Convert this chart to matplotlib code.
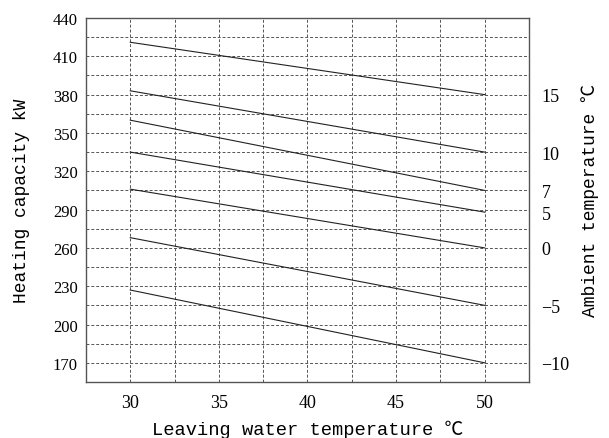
import matplotlib
matplotlib.use("Agg")
import matplotlib.pyplot as plt
from matplotlib.ticker import MultipleLocator, FixedLocator

# leaving water temperature (deg C) at the two ends of each curve
water_temp = [30, 50]

# ambient temperature for each curve and heating capacity (kW) at 30 / 50 deg C
ambient = [15, 10, 7, 5, 0, -5, -10]
capacity = [
  [421, 380],
  [383, 335],
  [360, 305],
  [335, 288],
  [306, 260],
  [268, 215],
  [227, 170],
]

y_ticks = list(range(170, 441, 30))
y_minor = list(range(185, 441, 30))
x_ticks = [30, 35, 40, 45, 50]

LABEL_FONT = ["Liberation Mono", "Noto Sans CJK SC", "DejaVu Sans"]
TICK_FONT = ["Liberation Serif", "DejaVu Serif"]
plt.rcParams["font.family"] = LABEL_FONT


def style_ticks(labels, size):
  for t in labels:
    t.set_family(TICK_FONT)
    t.set_fontsize(size)


def main() -> None:
  fig = plt.figure(figsize=(6.09, 4.39), dpi=100)
  ax = fig.add_axes([0.1412, 0.1276, 0.7274, 0.8291])

  for vals in capacity:
    ax.plot(water_temp, vals, color="#222222", lw=0.8)

  ax.set_xlim(27.5, 52.5)
  ax.set_ylim(155, 440)
  ax.set_xticks(x_ticks)
  ax.set_yticks(y_ticks)
  ax.xaxis.set_minor_locator(MultipleLocator(2.5))
  ax.yaxis.set_minor_locator(FixedLocator(y_minor))
  ax.grid(which="both", ls=(0, (3, 2)), lw=0.7, color="#555555")
  ax.tick_params(which="both", length=0)
  ax.tick_params(axis="x", pad=9)
  ax.tick_params(axis="y", pad=6)
  style_ticks(ax.get_xticklabels(), 13)
  style_ticks(ax.get_yticklabels(), 12)
  for s in ax.spines.values():
    s.set_color("#555555")
    s.set_linewidth(1.0)

  ax.set_xlabel("Leaving water temperature ℃", fontsize=13.5, labelpad=6)
  ax.set_ylabel("Heating capacity kW", fontsize=13, labelpad=16)

  # right axis: ambient temperature placed at the 50 deg C end of each curve
  ax2 = ax.twinx()
  ax2.set_ylim(ax.get_ylim())
  ax2.set_yticks([v[-1] for v in capacity])
  ax2.set_yticklabels([str(a).replace("-", "\u2212") for a in ambient])
  ax2.tick_params(length=0, pad=9)
  style_ticks(ax2.get_yticklabels(), 13)
  for s in ax2.spines.values():
    s.set_visible(False)
  ax2.set_ylabel("Ambient temperature ℃", fontsize=13, labelpad=8)

  fig.savefig("out.png", dpi=100)
  plt.close(fig)


if __name__ == "__main__":
  main()
